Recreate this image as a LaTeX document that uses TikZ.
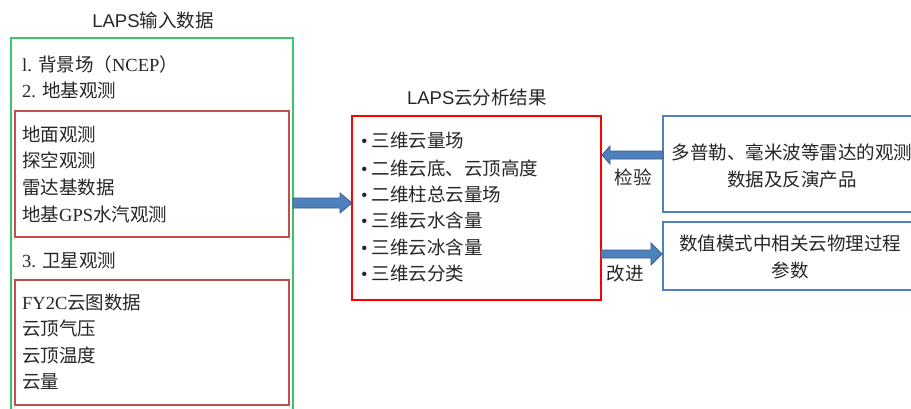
\documentclass[tikz,border=0pt]{standalone}
\usepackage{fontspec}
\setmainfont{Liberation Serif}
\setsansfont{Liberation Sans}
\newfontfamily\cjk{Noto Sans CJK SC}
\newcommand{\C}[1]{{\cjk #1}}
\definecolor{grn}{HTML}{3CC46A}
\definecolor{ored}{HTML}{C0504D}
\definecolor{oblue}{HTML}{4F81BD}
\definecolor{dblue}{HTML}{385D8A}
\definecolor{txt}{HTML}{262626}
\begin{document}
\begin{tikzpicture}[x=1pt,y=-1pt,
  every node/.style={text=txt,font=\fontsize{18.5}{22}\selectfont},
  lbl/.style={anchor=west,inner sep=0pt},
  ttl/.style={inner sep=0pt,font=\fontsize{18.5}{22}\selectfont\sffamily},
  ctr/.style={inner sep=0pt,align=center,font=\fontsize{18.5}{27}\selectfont},
  blk/.style={fill=oblue,draw=dblue,line width=0.8pt},
  gbox/.style={draw=grn,line width=1.3pt},
  rbox/.style={draw=ored,line width=1.3pt},
  cbox/.style={draw=red,line width=1.5pt},
  bbox/.style={draw=oblue,line width=1.5pt}]
\useasboundingbox (0,0) rectangle (911,408);
\clip (0,0) rectangle (911,408);
\fill[white] (0,0) rectangle (911,408);
% left group
\node[ttl] (t1) at (153,20) {LAPS\C{输入数据}};
\draw[gbox] (11,38) rectangle (293,414);
\draw[rbox] (15,111) rectangle (289,237);
\draw[rbox] (15,280) rectangle (289,405);
\node[lbl] (a1) at (22,64) {l. \C{背景场（}NCEP\C{）}};
\node[lbl] (a2) at (22,90) {2. \C{地基观测}};
\node[lbl] (b1) at (22,134) {\C{地面观测}};
\node[lbl] (b2) at (22,160) {\C{探空观测}};
\node[lbl] (b3) at (22,187) {\C{雷达基数据}};
\node[lbl] (b4) at (22,214) {\C{地基}GPS\C{水汽观测}};
\node[lbl] (a3) at (22,261) {3. \C{卫星观测}};
\node[lbl] (c1) at (22,302) {FY2C\C{云图数据}};
\node[lbl] (c2) at (22,328) {\C{云顶气压}};
\node[lbl] (c3) at (22,355) {\C{云顶温度}};
\node[lbl] (c4) at (22,382) {\C{云量}};
% center
\node[ttl] (t2) at (477,97) {LAPS\C{云分析结果}};
\draw[cbox] (352,116) rectangle (601,300);
\foreach \y/\t [count=\i] in {141/三维云量场,168/二维云底、云顶高度,194/二维柱总云量场,220/三维云水含量,247/三维云冰含量,274/三维云分类}{
  \node[lbl] (m\i) at (361,\y) {\textbullet\hspace{4pt}\C{\t}};
}
% right boxes
\draw[bbox] (663,116) rectangle (920,212);
\draw[bbox] (663,222) rectangle (920,290);
\node[ctr] (r1) at (792,166) {\C{多普勒、毫米波等雷达的观测}\\\C{数据及反演产品}};
\node[ctr] (r2) at (790,257) {\C{数值模式中相关云物理过程}\\\C{参数}};
% arrows
\draw[blk] (293,198) -- (340,198) -- (340,193) -- (352,203) -- (340,213) -- (340,208) -- (293,208) -- cycle;
\draw[blk] (663,151) -- (610,151) -- (610,146) -- (602,155) -- (610,164) -- (610,159) -- (663,159) -- cycle;
\draw[blk] (601,250) -- (651,250) -- (651,243) -- (662,254) -- (651,265) -- (651,258) -- (601,258) -- cycle;
\node[inner sep=0pt] (l1) at (633,177) {\C{检验}};
\node[inner sep=0pt] (l2) at (625,274) {\C{改进}};
\end{tikzpicture}
\end{document}
